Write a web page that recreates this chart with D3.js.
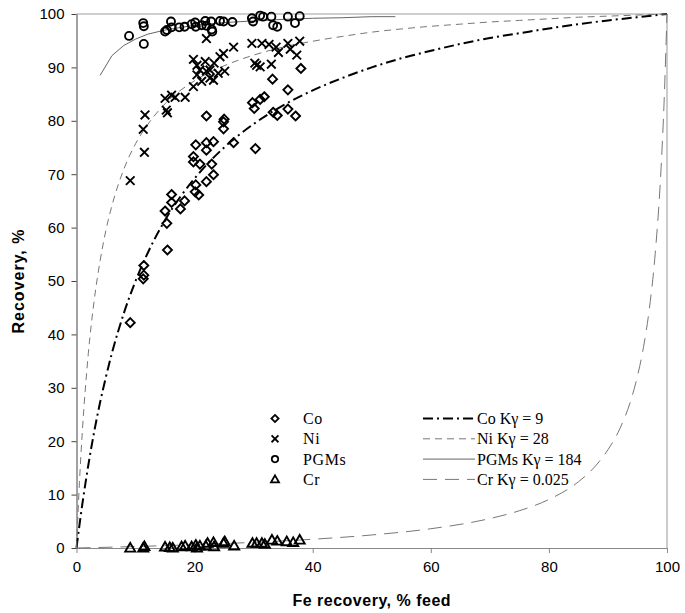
<!DOCTYPE html>
<html>
<head>
<meta charset="utf-8">
<script src="https://cdn.jsdelivr.net/npm/d3@7"></script>
<style>
  body { margin: 0; background: #fff; }
  svg { display: block; }
</style>
</head>
<body>
<svg id="svg"></svg>
<script>
var coPoints = [[9.1,42.2],[11.4,52.9],[11.4,51.1],[11.3,50.4],[15.4,55.8],[15.0,63.1],[15.3,60.8],
    [16.1,66.2],[16.1,64.7],[17.6,63.5],[18.3,65.0],[19.8,73.3],[19.8,72.3],[20.2,75.5],[20.9,71.9],
    [20.1,66.7],[20.2,68.0],[20.7,66.1],[22.0,75.9],[22.0,74.5],[23.2,76.1],[22.9,71.9],[22.0,68.6],
    [23.2,69.9],[22.0,80.9],[24.9,79.8],[24.9,78.5],[25.0,80.3],[26.6,75.9],[30.3,74.8],[30.1,82.3],
    [29.8,83.4],[31.1,84.0],[31.8,84.5],[33.3,81.6],[34.0,81.0],[35.8,82.2],[37.1,80.9],[38.0,89.8],
    [33.2,87.8],[35.8,85.8]];
var niPoints = [[9.1,68.8],[11.5,74.1],[11.3,78.4],[11.6,81.1],[15.4,81.5],[15.2,82.0],[15.0,84.2],
    [16.1,84.8],[16.7,84.4],[18.4,84.4],[19.8,86.4],[20.4,88.6],[19.8,91.5],[20.4,90.4],[20.9,89.5],
    [21.8,91.1],[22.0,89.3],[22.6,89.5],[23.2,87.6],[23.3,90.8],[24.3,92.0],[24.9,92.6],[25.1,89.3],
    [26.6,93.8],[22.0,95.4],[21.2,87.4],[22.6,88.0],[24.0,88.9],[29.7,94.5],[31.4,94.5],[32.6,94.3],
    [33.8,93.8],[35.8,94.5],[37.8,94.9],[34.2,92.8],[36.2,93.4],[37.3,92.3],[30.2,90.8],[30.5,90.4],
    [31.1,90.1],[33.0,90.6]];
var pgmPoints = [[8.9,95.9],[11.3,98.3],[11.4,97.7],[11.4,94.4],[15.0,96.7],[15.3,97.0],[16.0,98.6],
    [16.1,97.5],[17.4,97.5],[18.3,97.6],[19.5,98.1],[20.1,98.4],[20.2,97.6],[21.2,97.9],[21.8,98.7],
    [22.0,97.8],[22.8,98.6],[22.9,97.1],[23.0,96.7],[24.3,98.7],[24.9,98.6],[26.4,98.5],[29.7,99.2],
    [29.9,98.6],[31.1,99.7],[31.6,99.5],[33.0,99.5],[33.3,97.9],[34.0,97.6],[35.8,99.5],[37.0,98.3],
    [37.8,99.6]];
var crPoints = [[9.1,0.0],[11.3,0.0],[11.5,0.3],[15.0,0.2],[15.8,0.1],[16.3,0.0],[17.8,0.25],[18.4,0.4],
    [19.5,0.25],[20.2,0.55],[20.4,0.0],[20.9,0.4],[21.9,0.4],[22.2,0.9],[23.2,1.05],[23.3,0.25],
    [24.9,0.9],[25.1,1.2],[26.7,0.4],[29.8,0.9],[30.5,0.9],[31.4,0.9],[31.9,0.7],[33.1,1.5],[34.0,1.3],
    [35.6,1.2],[36.7,1.05],[37.8,1.5]];

// fitted curves
var fitX   = [0,0.5,1,2,3,4,5,6,8,10,12,15,20,25,30,35,40,45,50,55,60,65,70,75,80,85,90,95,100];
var coFitY = [0,4.3,8.3,15.5,21.8,27.3,32.1,36.5,43.9,50.0,55.1,61.4,69.2,75.0,79.4,82.9,85.7,88.0,
              90.0,91.7,93.1,94.4,95.5,96.4,97.3,98.1,98.8,99.4,100];
var niFitY = [0,12.3,22.0,36.4,46.4,53.8,59.6,64.1,70.9,75.7,79.2,83.2,87.5,90.3,92.3,93.8,94.9,95.8,
              96.6,97.2,97.7,98.1,98.5,98.8,99.1,99.4,99.6,99.8,100];
var pgmFitX = [4,6,8,10,12,15,20,25,30,35,40,45,50,54];
var pgmFitY = [88.5,92.2,94.1,95.3,96.2,97.0,97.9,98.4,98.7,99.0,99.2,99.3,99.5,99.5];
var crFitX = [0,5,10,20,30,40,50,60,70,75,80,85,88,90,92,94,95,96,97,98,99,99.5,100];
var crFitY = [0,0.13,0.28,0.62,1.06,1.64,2.44,3.61,5.51,6.98,9.09,12.4,15.5,18.4,22.3,28.1,32.2,
              37.5,44.7,55.1,71.2,83.3,100];

var xTicks = [0,20,40,60,80,100];
var yTicks = [0,10,20,30,40,50,60,70,80,90,100];

var markerLabels = ["Co","Ni","PGMs","Cr"];
var lineLabels = ["Co K\u03b3 = 9","Ni K\u03b3 = 28","PGMs K\u03b3 = 184","Cr K\u03b3 = 0.025"];

//////////////////////////////////////////////////////////////////////////////

var width = 685, height = 613;
var svg = d3.select("#svg").attr("width", width).attr("height", height);

var x = d3.scaleLinear().domain([0,100]).range([76.5,667]);
var y = d3.scaleLinear().domain([0,100]).range([548,14]);

// frame: light top, grey right
svg.append("line").attr("x1", x(0)).attr("x2", x(100)).attr("y1", y(100)).attr("y2", y(100))
    .attr("stroke", "#cfcfcf").attr("stroke-width", 2);
svg.append("line").attr("x1", x(100)).attr("x2", x(100)).attr("y1", y(100)).attr("y2", y(0))
    .attr("stroke", "#999").attr("stroke-width", 1);

var xAxis = svg.append("g").attr("transform", "translate(0," + y(0) + ")")
    .call(d3.axisBottom(x).tickValues(xTicks).tickSize(5).tickSizeOuter(0).tickPadding(8));
var yAxis = svg.append("g").attr("transform", "translate(" + x(0) + ",0)")
    .call(d3.axisLeft(y).tickValues(yTicks).tickSize(5).tickSizeOuter(0).tickPadding(7));

xAxis.select(".domain").attr("stroke", "#888");
xAxis.selectAll(".tick line").attr("stroke", "#888");
yAxis.select(".domain").attr("stroke", "#444");
yAxis.selectAll(".tick line").attr("stroke", "#444");
svg.selectAll(".tick text").attr("font-family", "Liberation Sans, Arial, sans-serif")
    .attr("font-size", 15).attr("fill", "#000");

svg.append("text").attr("x", (x(0)+x(100))/2).attr("y", 606).attr("text-anchor", "middle")
    .attr("font-family", "Liberation Sans, Arial, sans-serif").attr("font-weight", "bold")
    .attr("font-size", 16).attr("letter-spacing", 0.5).text("Fe recovery, % feed");
svg.append("text").attr("transform", "translate(24," + ((y(0)+y(100))/2) + ") rotate(-90)")
    .attr("text-anchor", "middle")
    .attr("font-family", "Liberation Sans, Arial, sans-serif").attr("font-weight", "bold")
    .attr("font-size", 16).attr("letter-spacing", 1).text("Recovery, %");

// curves
function zipXY(xs, ys) {
    var out = [];
    for (var i=0; i<xs.length; ++i) out.push([xs[i], ys[i]]);
    return out;
}
var smooth = d3.line().x(function(d) { return x(d[0]); }).y(function(d) { return y(d[1]); })
    .curve(d3.curveMonotoneX);
var straight = d3.line().x(function(d) { return x(d[0]); }).y(function(d) { return y(d[1]); });

var lineStyles = [
    {stroke: "#000", width: 2, dash: "10,4,2,4"},
    {stroke: "#777", width: 1, dash: "7,5"},
    {stroke: "#666", width: 1, dash: null},
    {stroke: "#777", width: 1, dash: "14,8"}
];
var curves = [
    smooth(zipXY(fitX, coFitY)),
    smooth(zipXY(fitX, niFitY)),
    straight(zipXY(pgmFitX, pgmFitY)),
    smooth(zipXY(crFitX, crFitY))
];
curves.forEach(function(p, i) {
    svg.append("path").attr("d", p).attr("fill", "none")
        .attr("stroke", lineStyles[i].stroke).attr("stroke-width", lineStyles[i].width)
        .attr("stroke-dasharray", lineStyles[i].dash);
});

// markers
function markerPath(kind, s) {
    if (kind == 0) return "M0," + (-4.5*s) + "L" + (4.5*s) + ",0L0," + (4.5*s) + "L" + (-4.5*s) + ",0Z";
    if (kind == 1) return "M" + (-4.3*s) + "," + (-4.3*s) + "L" + (4.3*s) + "," + (4.3*s) +
                          "M" + (-4.3*s) + "," + (4.3*s) + "L" + (4.3*s) + "," + (-4.3*s);
    if (kind == 2) return d3.arc()({innerRadius: 0, outerRadius: 4*s, startAngle: 0, endAngle: 2*Math.PI});
    return "M0," + (-5*s) + "L" + (5*s) + "," + (3.6*s) + "L" + (-5*s) + "," + (3.6*s) + "Z";
}
var series = [coPoints, niPoints, pgmPoints, crPoints];
series.forEach(function(pts, k) {
    svg.append("g").selectAll("path").data(pts).enter().append("path")
        .attr("transform", function(d) { return "translate(" + x(d[0]) + "," + y(d[1]) + ")"; })
        .attr("d", markerPath(k, 1))
        .attr("fill", "none").attr("stroke", "#000").attr("stroke-width", 1.9);
});

// legend
var legY0 = 418.5, legStep = 20.3;
var leg = svg.append("g");
markerLabels.forEach(function(lbl, i) {
    var yy = legY0 + i*legStep;
    leg.append("path").attr("transform", "translate(275," + yy + ")").attr("d", markerPath(i, 0.8))
        .attr("fill", "none").attr("stroke", "#000").attr("stroke-width", 1.8);
    leg.append("text").attr("x", 303).attr("y", yy + 5.5)
        .attr("font-family", "Liberation Serif, Times New Roman, serif").attr("font-size", 16)
        .attr("letter-spacing", 0.6).text(lbl);
});
lineLabels.forEach(function(lbl, i) {
    var yy = legY0 + i*legStep;
    leg.append("line").attr("x1", 423).attr("x2", 475).attr("y1", yy).attr("y2", yy)
        .attr("stroke", lineStyles[i].stroke).attr("stroke-width", lineStyles[i].width)
        .attr("stroke-dasharray", lineStyles[i].dash);
    leg.append("text").attr("x", 477).attr("y", yy + 5.5)
        .attr("font-family", "Liberation Serif, Times New Roman, serif").attr("font-size", 16)
        .text(lbl);
});
</script>
</body>
</html>
